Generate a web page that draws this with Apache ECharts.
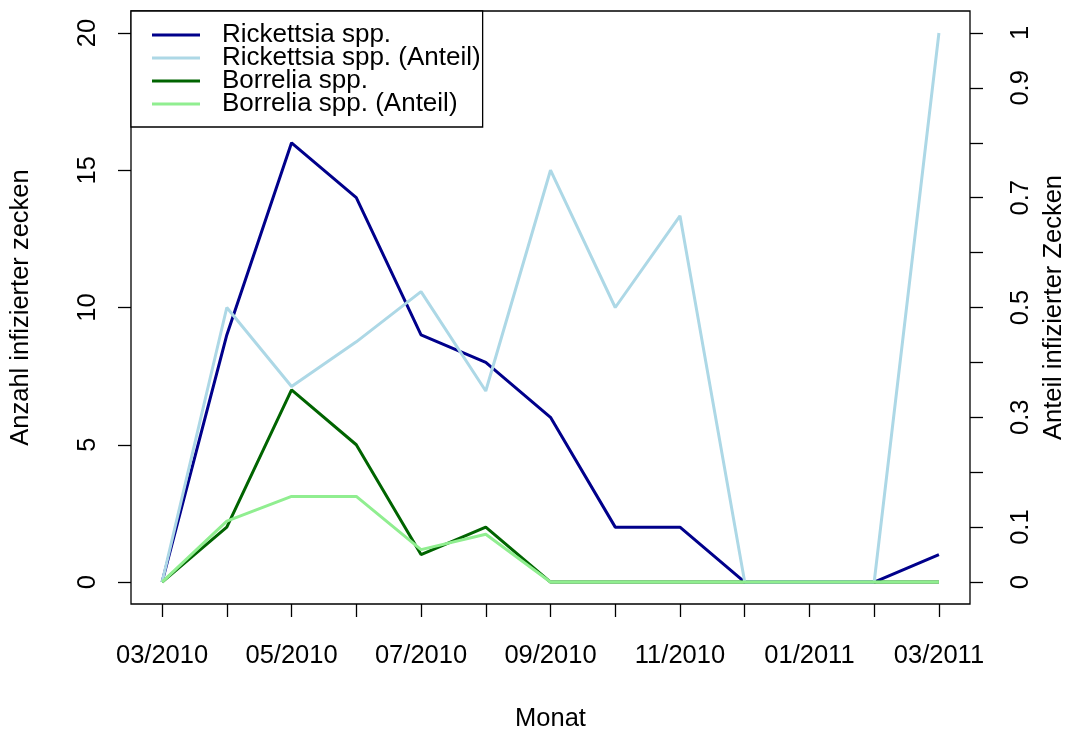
<!DOCTYPE html>
<html>
<head>
<meta charset="utf-8">
<script src="https://cdn.jsdelivr.net/npm/echarts@6/dist/echarts.min.js"></script>
<style>
  html, body { margin: 0; padding: 0; background: #fff; }
  #chart { width: 1066px; height: 731px; }
</style>
</head>
<body>
<div id="chart"></div>
<script>
// Monthly infected ticks, 03/2010 - 03/2011
const months = ['03/2010', '04/2010', '05/2010', '06/2010', '07/2010', '08/2010', '09/2010',
                '10/2010', '11/2010', '12/2010', '01/2011', '02/2011', '03/2011'];
const rickettsiaCount = [0, 9, 16, 14, 9, 8, 6, 2, 2, 0, 0, 0, 1];
const borreliaCount   = [0, 2, 7, 5, 1, 2, 0, 0, 0, 0, 0, 0, 0];
const rickettsiaShare = [0, 0.5, 0.356, 0.4375, 0.529, 0.348, 0.75, 0.5, 0.667, 0, 0, 0, 1];
const borreliaShare   = [0, 0.111, 0.156, 0.156, 0.059, 0.087, 0, 0, 0, 0, 0, 0, 0];

const countTicks = [0, 5, 10, 15, 20];
const shareTicks = [0, 0.1, 0.2, 0.3, 0.4, 0.5, 0.6, 0.7, 0.8, 0.9, 1];
const shareLabels = [0, 0.1, 0.3, 0.5, 0.7, 0.9, 1];
const monthTicks = months.map((m, i) => i);
const monthLabels = months.map((m, i) => i).filter(i => i % 2 === 0);

const FONT = 'Liberation Sans, Arial, sans-serif';
const FS = 25.5;

const pairs = arr => arr.map((v, i) => [i, v]);

const chart = echarts.init(document.getElementById('chart'), null, { renderer: 'canvas' });

const tickStyle = { color: '#000', width: 1.3 };

chart.setOption({
  animation: false,
  backgroundColor: '#fff',
  grid: {
    left: 131, right: 96, top: 11, bottom: 127,
    outerBoundsMode: 'none', containLabel: false,
    show: true, borderColor: '#000', borderWidth: 1.3, backgroundColor: 'transparent'
  },
  legend: {
    orient: 'vertical',
    left: 131, top: 11,
    data: ['Rickettsia spp.', 'Rickettsia spp. (Anteil)', 'Borrelia spp.', 'Borrelia spp. (Anteil)'],
    icon: 'rect',
    itemWidth: 48, itemHeight: 3,
    itemGap: -3,
    padding: [11, 2, 10, 21],
    backgroundColor: '#fff',
    borderColor: '#000', borderWidth: 1.3, borderRadius: 0,
    textStyle: { fontFamily: FONT, fontSize: 26, color: '#000', lineHeight: 21.6, padding: [0, 0, 0, 17] },
    itemStyle: { borderWidth: 0 },
    selectedMode: false
  },
  xAxis: {
    type: 'value',
    min: -0.48, max: 12.48,
    name: 'Monat', nameLocation: 'middle', nameGap: 102,
    nameTextStyle: { fontFamily: FONT, fontSize: FS, color: '#000' },
    splitLine: { show: false },
    axisLine: { show: false, onZero: false },
    axisTick: { show: true, length: 13, lineStyle: tickStyle, customValues: monthTicks },
    axisLabel: {
      customValues: monthLabels,
      formatter: v => months[Math.round(v)],
      fontFamily: FONT, fontSize: FS, color: '#000', margin: 39, lineHeight: 25
    }
  },
  yAxis: [
    {
      type: 'value', position: 'left',
      min: -0.8, max: 20.8,
      name: 'Anzahl infizierter zecken', nameLocation: 'middle', nameGap: 97,
      nameTextStyle: { fontFamily: FONT, fontSize: FS, color: '#000' },
      splitLine: { show: false },
      axisLine: { show: false, onZero: false },
      axisTick: { show: true, length: 13, lineStyle: tickStyle, customValues: countTicks },
      axisLabel: {
        customValues: countTicks, rotate: 90,
        fontFamily: FONT, fontSize: FS, color: '#000', margin: 31, lineHeight: 25
      }
    },
    {
      type: 'value', position: 'right',
      min: -0.04, max: 1.04,
      name: 'Anteil infizierter Zecken', nameLocation: 'middle', nameGap: 64,
      nameTextStyle: { fontFamily: FONT, fontSize: FS, color: '#000' },
      nameRotate: 90,
      splitLine: { show: false },
      axisLine: { show: false, onZero: false },
      axisTick: { show: true, length: 13, lineStyle: tickStyle, customValues: shareTicks },
      axisLabel: {
        customValues: shareLabels, rotate: 90,
        fontFamily: FONT, fontSize: FS, color: '#000', margin: 38, lineHeight: 25
      }
    }
  ],
  series: [
    {
      name: 'Rickettsia spp.', type: 'line', yAxisIndex: 0,
      data: pairs(rickettsiaCount), showSymbol: false,
      color: '#00008B', lineStyle: { width: 3, color: '#00008B' }
    },
    {
      name: 'Borrelia spp.', type: 'line', yAxisIndex: 0,
      data: pairs(borreliaCount), showSymbol: false,
      color: '#006400', lineStyle: { width: 3, color: '#006400' }
    },
    {
      name: 'Rickettsia spp. (Anteil)', type: 'line', yAxisIndex: 1,
      data: pairs(rickettsiaShare), showSymbol: false,
      color: '#ADD8E6', lineStyle: { width: 3, color: '#ADD8E6' }
    },
    {
      name: 'Borrelia spp. (Anteil)', type: 'line', yAxisIndex: 1,
      data: pairs(borreliaShare), showSymbol: false,
      color: '#90EE90', lineStyle: { width: 3, color: '#90EE90' }
    }
  ]
});
</script>
</body>
</html>
